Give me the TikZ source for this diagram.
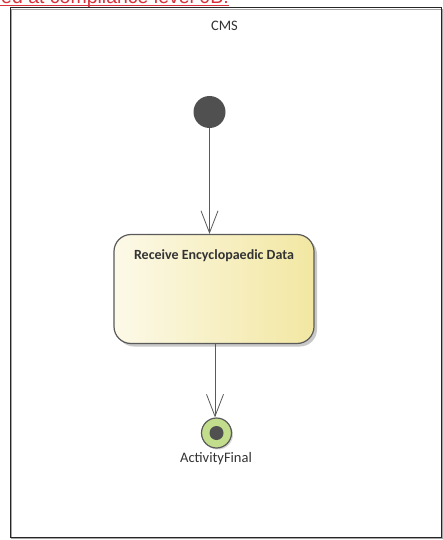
\documentclass[tikz,border=0pt]{standalone}
\usepackage{fontspec}
\setmainfont{Carlito}
\newfontfamily\arialfont{Liberation Sans}
\usetikzlibrary{arrows.meta,shadows}
\definecolor{redtxt}{HTML}{D9323C}
\definecolor{actl}{HTML}{FCF9E8}
\definecolor{actr}{HTML}{F2E7A2}
\definecolor{edge}{HTML}{5A5A5A}
\definecolor{initc}{HTML}{505050}
\definecolor{fing}{HTML}{C2DD8C}
\definecolor{txt}{HTML}{333333}
\tikzset{
  px/.style={x=1pt,y=-1pt},
  conn/.style={draw=edge,line width=0.8pt,-{Straight Barb[length=22pt,width=17pt,line width=0.8pt]}},
  action/.style={draw=edge,line width=1.2pt,rounded corners=17pt,left color=actl,right color=actr,minimum width=200pt,minimum height=109pt,drop shadow={shadow xshift=3pt,shadow yshift=-3pt,fill=black!30,opacity=0.7}},
}
\begin{document}
\begin{tikzpicture}[px]
\useasboundingbox (0,0) rectangle (443,540);
\clip (0,0) rectangle (443,540);
\fill[white] (0,0) rectangle (443,540);
% red header text (cut at top)
\node[anchor=base east,inner sep=0pt,text=redtxt,font=\arialfont\fontsize{19.5}{22}\selectfont] (hdr) at (229,4) {ed at compliance level 0B:};
\draw[redtxt,line width=1pt] (0,6) -- (229,6);
% frame
\draw[black!35,line width=1pt] (11.5,9.5) rectangle (442.5,538.5);
\draw[black!85,line width=1pt] (10,8) rectangle (441,537);
\node[font=\fontsize{14.5}{16}\selectfont,text=txt] (cms) at (224.5,26) {CMS};
% initial
\node[circle,fill=initc,minimum size=32pt,inner sep=0pt] (init) at (209.5,112) {};
% action
\node[action] (act) at (214,289) {};
\node[font=\bfseries\fontsize{14}{16}\selectfont,text=txt] (actlbl) at (214,256) {Receive Encyclopaedic Data};
% final
\node[circle,draw=edge,line width=1.2pt,fill=fing,minimum size=30pt,inner sep=0pt,drop shadow={shadow xshift=1.5pt,shadow yshift=-1.5pt,fill=black!25,opacity=0.6}] (fin) at (216.5,433) {};
\node[circle,fill=initc,minimum size=14pt,inner sep=0pt] (fininner) at (fin.center) {};
\node[font=\fontsize{14.5}{16}\selectfont,text=txt] (finlbl) at (216,459) {ActivityFinal};
% connectors
\draw[conn] (init.south) -- (act.north -| init.south);
\coordinate (a2) at (215,343.5);
\draw[conn] (a2) -- (fin.north -| a2);
\end{tikzpicture}
\end{document}
